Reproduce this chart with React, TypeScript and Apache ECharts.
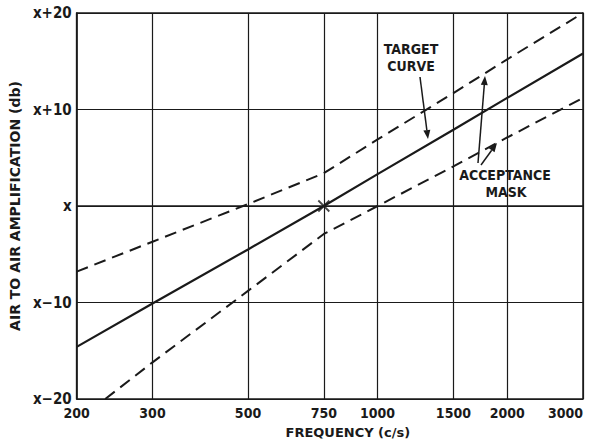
import React, { useEffect, useRef } from "react";
import * as echarts from "echarts";

const frequencyTicks = [200, 300, 500, 750, 1000, 1500, 2000, 3000];
const targetFreq = [200, 300, 500, 750, 1000, 1500, 2000, 3000];
const targetDb = [-14.6, -10.1, -4.5, 0, 3.3, 7.9, 11.2, 15.8];
const upperFreq = [200, 300, 500, 750, 1000, 1500, 2000, 3000];
const upperDb = [-6.8, -3.7, 0.2, 3.4, 6.9, 11.7, 15.2, 20];
const lowerFreq = [233, 300, 500, 750, 1000, 1500, 2000, 3000];
const lowerDb = [-20, -16.2, -8.8, -2.9, 0, 4.1, 7.1, 11.2];
const crossFreq = [750];
const crossDb = [0];

const INK = "#1a1a1a";
const FONT = "DejaVu Sans Condensed";

function arrow(x1: number, y1: number, x2: number, y2: number) {
  const head = 9;
  const w = 3.5;
  const dx = x2 - x1;
  const dy = y2 - y1;
  const L = Math.hypot(dx, dy);
  const ux = dx / L;
  const uy = dy / L;
  const bx = x2 - ux * head;
  const by = y2 - uy * head;
  return [
    {
      type: "line",
      shape: { x1, y1, x2: bx, y2: by },
      style: { stroke: INK, lineWidth: 1.5 },
    },
    {
      type: "polygon",
      shape: {
        points: [
          [x2, y2],
          [bx - uy * w, by + ux * w],
          [bx + uy * w, by - ux * w],
        ],
      },
      style: { fill: INK },
    },
  ];
}

function label(text: string, x: number, y: number) {
  return {
    type: "text",
    x,
    y,
    style: {
      text,
      fill: INK,
      font: `bold 14px "${FONT}"`,
      align: "center",
      verticalAlign: "middle",
    },
  };
}

const zip = (xs: number[], ys: number[]) => xs.map((x, i) => [x, ys[i]]);

export default function App() {
  const ref = useRef<HTMLDivElement>(null);
  useEffect(() => {
    if (!ref.current) return;
    const chart = echarts.init(ref.current, undefined, { renderer: "svg" });
    const lineBase = { type: "line", showSymbol: false, silent: true, smooth: false };
    chart.setOption({
      animation: false,
      backgroundColor: "#fff",
      grid: {
        left: 76,
        right: 10,
        top: 13,
        bottom: 44,
        show: true,
        borderColor: INK,
        borderWidth: 1.5,
        backgroundColor: "transparent",
      },
      xAxis: {
        type: "log",
        logBase: 10,
        min: 200,
        max: 3000,
        name: "FREQUENCY (c/s)",
        nameLocation: "middle",
        nameGap: 27,
        nameTextStyle: {
          fontFamily: "DejaVu Sans",
          fontWeight: "bold",
          fontSize: 13,
          color: INK,
          padding: [0, 0, 0, 36],
        },
        axisLine: { show: true, lineStyle: { color: INK, width: 1.5 } },
        axisTick: { show: false, customValues: frequencyTicks },
        axisLabel: {
          customValues: frequencyTicks,
          formatter: (v: number) => String(Math.round(v)),
          fontFamily: FONT,
          fontWeight: "bold",
          fontSize: 14,
          color: INK,
          margin: 7,
          alignMaxLabel: "right",
        },
        splitLine: { show: true, lineStyle: { color: INK, width: 1.2 } },
      },
      yAxis: {
        type: "value",
        min: -20,
        max: 20,
        interval: 10,
        name: "AIR TO AIR AMPLIFICATION (db)",
        nameLocation: "middle",
        nameRotate: 90,
        nameGap: 45,
        nameTextStyle: {
          fontFamily: "DejaVu Sans",
          fontWeight: "bold",
          fontSize: 14,
          color: INK,
        },
        axisLine: { show: true, lineStyle: { color: INK, width: 1.5 } },
        axisTick: { show: false },
        axisLabel: {
          margin: 5,
          fontFamily: FONT,
          fontWeight: "bold",
          fontSize: 15,
          color: INK,
          formatter: (v: number) =>
            v === 0 ? "x" : v > 0 ? `x+${v}` : `x\u2212${Math.abs(v)}`,
        },
        splitLine: { show: true, lineStyle: { color: INK, width: 1.2 } },
      },
      series: [
        {
          ...lineBase,
          name: "Target curve",
          data: zip(targetFreq, targetDb),
          lineStyle: { color: INK, width: 2.2, type: "solid" },
        },
        {
          ...lineBase,
          name: "Acceptance mask upper",
          data: zip(upperFreq, upperDb),
          lineStyle: { color: INK, width: 2, type: [12, 7] },
        },
        {
          ...lineBase,
          name: "Acceptance mask lower",
          data: zip(lowerFreq, lowerDb),
          lineStyle: { color: INK, width: 2, type: [12, 7] },
        },
        {
          type: "scatter",
          silent: true,
          data: zip(crossFreq, crossDb),
          symbol: "path://M0 0L10 10M10 0L0 10",
          symbolSize: 11,
          itemStyle: { color: "none", borderColor: INK, borderWidth: 1.8 },
        },
      ],
      graphic: [
        label("TARGET", 411, 49),
        label("CURVE", 411, 66),
        label("ACCEPTANCE", 505, 175),
        label("MASK", 506, 192),
        ...arrow(420, 77, 428, 139),
        ...arrow(478, 163, 485, 76),
        ...arrow(481, 165, 497, 143),
      ],
    });
    return () => chart.dispose();
  }, []);
  return (
    <div
      ref={ref}
      style={{ position: "absolute", left: 0, top: 0, width: 593, height: 444 }}
    />
  );
}
